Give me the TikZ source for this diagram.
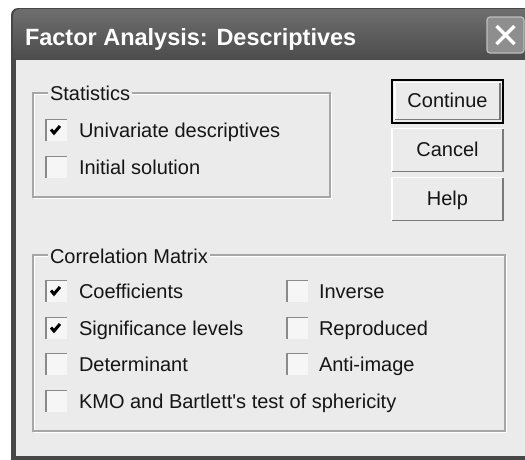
\documentclass[tikz,border=0pt]{standalone}
\usepackage{fontspec}
\setmainfont{Liberation Sans}
\definecolor{bg}{HTML}{EBEBEB}
\definecolor{framecol}{HTML}{474747}
\definecolor{tbtop}{HTML}{6E6E6E}
\definecolor{tbbot}{HTML}{4A4A4A}
\definecolor{txt}{HTML}{151515}
\definecolor{etch}{HTML}{A6A6A6}
\definecolor{cbdark}{HTML}{8A8A8A}
\definecolor{cbfill}{HTML}{F6F6F6}
\definecolor{btndark}{HTML}{7A7A7A}
\definecolor{closefill}{HTML}{8E8E8E}
\begin{document}
\begin{tikzpicture}[x=1pt,y=-1pt,
  every node/.style={inner sep=0pt, outer sep=0pt},
  lbl/.style={anchor=base west, font=\fontsize{20}{24}\selectfont, text=txt},
  grplbl/.style={anchor=base west, font=\fontsize{20}{24}\selectfont, text=txt, fill=bg, inner xsep=2pt, inner ysep=1pt},
  cbox/.style={minimum width=21pt, minimum height=21pt, fill=cbfill},
  cbedge/.style={draw=cbdark, line width=1.5pt},
  check/.style={draw=black, line width=3pt, line join=miter},
  btn/.style={minimum width=111pt, minimum height=43pt, fill=bg},
  btntxt/.style={anchor=base, font=\fontsize{20}{24}\selectfont, text=txt},
  etchline/.style={draw=etch, line width=1.2pt},
  etchwhite/.style={draw=white, line width=1pt}
]
\useasboundingbox (0,0) rectangle (525,459);
\fill[white] (0,0) rectangle (525,459);
% window frame
\fill[framecol, rounded corners=7pt] (11,470) rectangle (545,8);
\shade[top color=tbtop, bottom color=tbbot, rounded corners=7pt] (13,62) rectangle (545,9);
\fill[bg] (16,60) rectangle (545,456);
% title
\node[anchor=base west, font=\bfseries\fontsize{23.5}{28}\selectfont, text=white] (title) at (25,45) {Factor Analysis: Descriptives};
% close button
\node[minimum width=37pt, minimum height=36pt, fill=closefill, draw=white!75!black, line width=1.2pt, rounded corners=3pt] (close) at (505.5,35) {};
\draw[white, line width=3.5pt] ([shift={(-9,-9)}]close.center) -- ([shift={(9,9)}]close.center);
\draw[white, line width=3.5pt] ([shift={(-9,9)}]close.center) -- ([shift={(9,-9)}]close.center);
% buttons
\node[btn] (cont) at (447.5,101) {};
\draw[white, line width=1.2pt] ([shift={(3,-3)}]cont.south west) -- ([shift={(3,3)}]cont.north west) -- ([shift={(-3,3)}]cont.north east);
\draw[btndark, line width=1.2pt] ([shift={(3,-3)}]cont.south west) -- ([shift={(-3,-3)}]cont.south east) -- ([shift={(-3,3)}]cont.north east);
\draw[black, line width=2pt] (cont.south west) rectangle (cont.north east);
\node[btntxt] (conttxt) at (447.5,107) {Continue};
\node[btn] (canc) at (447.5,150) {};
\draw[white, line width=1.5pt] (canc.south west) -- (canc.north west) -- (canc.north east);
\draw[btndark, line width=1.5pt] (canc.south west) -- (canc.south east) -- (canc.north east);
\node[btntxt] (canctxt) at (447.5,156) {Cancel};
\node[btn] (help) at (447.5,199) {};
\draw[white, line width=1.5pt] (help.south west) -- (help.north west) -- (help.north east);
\draw[btndark, line width=1.5pt] (help.south west) -- (help.south east) -- (help.north east);
\node[btntxt] (helptxt) at (447.5,205) {Help};
% Statistics group
\draw[etchwhite] (34,94) rectangle (331,198);
\draw[etchline] (33,93) rectangle (330,197);
\node[grplbl] (statlbl) at (48,100) {Statistics};
% Correlation group
\draw[etchwhite] (34,256) rectangle (506,432);
\draw[etchline] (33,255) rectangle (505,431);
\node[grplbl] (corrlbl) at (48,263) {Correlation Matrix};
% checkboxes
\foreach \n/\x/\y in {cu/56.5/130, ci/56.5/167, cc/56.5/291, cs/56.5/328, cd/56.5/364, ck/56.5/401, cinv/297.5/291, crep/297.5/328, canti/297.5/364}{
  \node[cbox] (\n) at (\x,\y) {};
  \draw[cbedge] (\n.south west) -- (\n.north west) -- (\n.north east);
}
\foreach \n in {cu, cc, cs}{
  \draw[check] ([shift={(-5.5,-0.5)}]\n.center) -- ++(3,3.5) -- ++(6,-7);
}
% labels
\node[lbl] (tu) at (79,137) {Univariate descriptives};
\node[lbl] (ti) at (79,174) {Initial solution};
\node[lbl] (tc) at (79,298) {Coefficients};
\node[lbl] (ts) at (79,335) {Significance levels};
\node[lbl] (td) at (79,371) {Determinant};
\node[lbl] (tk) at (79,408) {KMO and Bartlett\textquotesingle s test of sphericity};
\node[lbl] (tinv) at (319,298) {Inverse};
\node[lbl] (trep) at (319,335) {Reproduced};
\node[lbl] (tanti) at (319,371) {Anti-image};
\end{tikzpicture}
\end{document}
